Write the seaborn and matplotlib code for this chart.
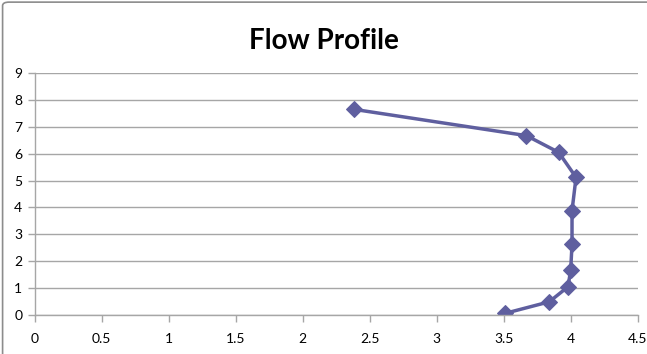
import matplotlib
matplotlib.use("Agg")
import matplotlib.pyplot as plt
import seaborn as sns
from matplotlib.patches import FancyBboxPatch

# values (x = velocity, y = height)
velocity = [2.38, 3.67, 3.91, 4.04, 4.01, 4.01, 4.00, 3.98, 3.84, 3.51]
height = [7.65, 6.67, 6.05, 5.12, 3.88, 2.63, 1.67, 1.05, 0.49, 0.06]
x_ticks = [0, 0.5, 1, 1.5, 2, 2.5, 3, 3.5, 4, 4.5]
y_ticks = list(range(0, 10))

LINE_COLOR = "#5f5f9f"

sns.set_theme(style="white")
plt.rcParams["font.family"] = ["Lato", "DejaVu Sans"]

fig = plt.figure(figsize=(6.47, 3.54), dpi=100)
ax = fig.add_axes([0.0536, 0.1102, 0.9320, 0.6836])

# estimator=None so repeated x values are not averaged together
sns.lineplot(x=velocity, y=height, sort=False, estimator=None, ax=ax,
             color=LINE_COLOR, linewidth=2.5, marker="D", markersize=8,
             markeredgecolor=LINE_COLOR, markerfacecolor=LINE_COLOR)

ax.set_xlim(0, 4.5)
ax.set_ylim(0, 9)
ax.set_xticks(x_ticks)
ax.set_xticklabels([f"{t:g}" for t in x_ticks])
ax.set_yticks(y_ticks)
ax.yaxis.grid(True, color="#a6a6a6", linewidth=1)
ax.xaxis.grid(False)

for side in ("top", "right"):
    ax.spines[side].set_visible(False)
for side in ("left", "bottom"):
    ax.spines[side].set_color("#a6a6a6")
    ax.spines[side].set_linewidth(1)

ax.tick_params(axis="both", which="major", direction="out", length=5,
               width=1, color="#a6a6a6", labelsize=10, labelcolor="black",
               bottom=True, left=True)
ax.tick_params(axis="x", pad=8)
ax.tick_params(axis="y", pad=4)

fig.text(0.5, 0.885, "Flow Profile", ha="center", va="center",
         fontsize=20, fontweight="bold", color="black")

# chart area border
border = FancyBboxPatch((0.004, -0.05), 1.2, 1.044,
                        boxstyle="round,pad=0,rounding_size=0.01",
                        transform=fig.transFigure, fill=False,
                        edgecolor="#8c8c8c", linewidth=1.2)
fig.patches.append(border)

fig.savefig("out.png", dpi=100)
